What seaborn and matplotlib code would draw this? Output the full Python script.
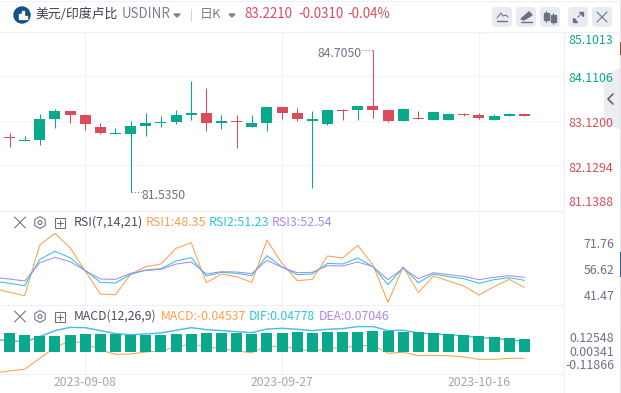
import matplotlib
matplotlib.use("Agg")
import matplotlib.pyplot as plt
from matplotlib.patches import Circle, FancyBboxPatch, Polygon, Rectangle, RegularPolygon
import numpy as np
import pandas as pd
import seaborn as sns

# ---- data ----
idx = list(range(35))
opens = [82.740, 82.666, 82.688, 83.157, 83.336, 83.247, 82.979, 82.822, 82.822, 83.001, 83.068, 83.090, 83.247, 83.291, 83.068, 83.113, 82.979, 83.068, 83.425, 83.291,
         83.113, 83.046, 83.358, 83.358, 83.448, 83.358, 83.113, 83.180, 83.135, 83.135, 83.269, 83.247, 83.135, 83.224, 83.269]
closes = [82.733, 82.688, 83.157, 83.336, 83.247, 83.046, 82.844, 82.844, 83.001, 83.068, 83.098, 83.247, 83.291, 83.068, 83.113, 83.090, 83.068, 83.425, 83.291, 83.157,
          83.157, 83.358, 83.336, 83.448, 83.358, 83.113, 83.381, 83.157, 83.314, 83.269, 83.247, 83.180, 83.224, 83.269, 83.224]
highs = [82.844, 82.777, 83.269, 83.381, 83.336, 83.269, 83.068, 82.956, 83.113, 83.291, 83.224, 83.358, 84.006, 83.850, 83.247, 83.247, 83.247, 83.425, 83.425, 83.403,
         83.336, 83.358, 83.381, 83.448, 84.705, 83.358, 83.403, 83.336, 83.314, 83.291, 83.291, 83.291, 83.269, 83.291, 83.269]
lows = [82.532, 82.666, 82.576, 82.956, 83.068, 82.912, 82.822, 82.822, 81.535, 82.777, 82.979, 83.046, 83.135, 82.889, 82.934, 82.509, 82.979, 82.889, 83.157, 83.113,
        81.616, 83.023, 83.135, 83.135, 83.180, 83.090, 83.113, 83.157, 83.135, 83.135, 83.224, 83.157, 83.135, 83.224, 83.224]

line_idx = list(range(-1, 35))
rsi1 = [46.21, 44.19, 42.17, 71.46, 78.20, 69.92, 56.43, 43.13, 42.75, 54.50, 58.93, 60.47, 69.53, 72.81, 49.68, 54.69, 53.15, 49.88, 74.16, 60.86, 50.84, 51.61,
        65.10, 63.94, 71.27, 59.90, 38.31, 58.93, 43.90, 53.54, 50.65, 47.76, 42.55, 47.37, 51.61, 46.98]
rsi2 = [50.53, 49.30, 47.95, 63.17, 67.80, 64.14, 56.81, 49.88, 49.49, 54.50, 57.01, 57.78, 62.21, 64.14, 53.54, 55.66, 55.08, 53.73, 65.29, 58.74, 54.31, 54.69,
        60.86, 60.47, 63.94, 58.93, 48.53, 58.35, 49.68, 54.69, 53.15, 52.00, 49.30, 51.42, 52.57, 51.03]
rsi3 = [52.73, 51.80, 50.65, 61.24, 64.33, 61.82, 56.62, 51.80, 51.61, 55.08, 56.81, 57.39, 60.47, 61.63, 54.69, 56.04, 55.85, 54.89, 62.59, 58.55, 55.46, 55.66,
        59.51, 59.32, 61.63, 58.93, 51.42, 57.97, 52.00, 55.46, 54.31, 53.34, 51.42, 52.77, 53.73, 52.77]

hist = [.176, .157, .148, .148, .157, .167, .167, .167, .157, .157, .157, .167, .167, .176, .176, .176, .167, .176, .176, .185,
        .176, .185, .185, .185, .194, .194, .185, .185, .176, .167, .157, .148, .139, .130, .120]
macd_line = [-.194, -.176, -.160, -.059, .043, .102, .080, .019, -.022, -.019, 0, .009, .046, .074, .046, .031, .009, -.006, .052, .052, .028, .006,
             .031, .040, .056, .062, -.012, -.003, -.034, -.031, -.034, -.046, -.068, -.068, -.059, -.059]
dif_line = [.114, .105, .093, .142, .198, .228, .225, .198, .170, .160, .167, .176, .201, .225, .207, .198, .188, .179, .213, .219, .210, .198,
            .210, .216, .235, .235, .198, .201, .176, .167, .160, .148, .133, .127, .111, .099]
dates = ["2023-09-08", "2023-09-27", "2023-10-16"]
date_idx = [5, 18, 31]

# ---- style ----
sns.set_theme(style="white")
plt.rcParams["font.family"] = ["Noto Sans CJK SC", "DejaVu Sans"]
GREEN, RED = "#0aa88c", "#dc4b5a"
ORANGE, CYAN, PURPLE = "#ffa04d", "#2cc6e0", "#a98be8"
GRID, TXT, GREY = "#f2f4f8", "#6e7385", "#a3a7b5"
W, H = 621, 393
LW = 0.75
fig = plt.figure(figsize=(W / 100, H / 100), dpi=100, facecolor="white")


def axes_px(x0, y0, x1, y1):
    return fig.add_axes([x0 / W, 1 - y1 / H, (x1 - x0) / W, (y1 - y0) / H])


XLIM = (-0.6275, 36.62)
ax_m = axes_px(0, 32, 564, 209.4)
ax_r = axes_px(0, 210, 564, 305)
ax_d = axes_px(0, 305, 564, 374)
for a in (ax_m, ax_r, ax_d):
    a.set_xlim(*XLIM)
    a.set_xticks(date_idx)
    a.set_xticklabels([])
    a.tick_params(length=0)
    a.grid(True, axis="x", color=GRID, lw=LW)
    a.set_axisbelow(True)
    a.set_facecolor("none")
    for s in a.spines.values():
        s.set_visible(False)

# candles
ax_m.set_ylim(81.1388, 85.1013)
ax_m.set_yticks([84.1106, 83.12, 82.1294])
ax_m.set_yticklabels([])
ax_m.grid(True, axis="y", color=GRID, lw=LW)
o, c = np.array(opens), np.array(closes)
cols = [GREEN if b >= a else RED for a, b in zip(opens, closes)]
ax_m.vlines(idx, lows, highs, colors=cols, lw=LW, zorder=3)
ax_m.bar(idx, np.maximum(np.abs(c - o), 0.016), bottom=np.minimum(o, c), width=0.73, color=cols, lw=0, zorder=4)
ax_m.plot([24.0 - 0.75, 24], [84.705, 84.705], color=TXT, lw=LW, ls=(0, (1, 2)), zorder=3)
ax_m.text(23.25, 84.63, "84.7050", ha="right", va="center", fontsize=8.8, color=TXT)
ax_m.plot([8, 8.75], [81.535, 81.535], color=TXT, lw=LW, ls=(0, (1, 2)), zorder=3)
ax_m.text(8.75, 81.46, "81.5350", ha="left", va="center", fontsize=8.8, color=TXT)

# RSI
ax_r.set_ylim(36.78, 91.69)
ax_r.set_yticks([])
for vals, col in ((rsi1, ORANGE), (rsi2, CYAN), (rsi3, PURPLE)):
    sns.lineplot(x=line_idx, y=vals, ax=ax_r, color=col, lw=LW, errorbar=None, sort=False)

# MACD
ax_d.set_ylim(-0.204, 0.435)
ax_d.set_yticks([])
sns.lineplot(x=line_idx, y=dif_line, ax=ax_d, color="#d9ccf5", lw=1.3, errorbar=None, sort=False, zorder=1)
sns.lineplot(x=line_idx, y=dif_line, ax=ax_d, color=CYAN, lw=LW, errorbar=None, sort=False, zorder=1.1)
sns.lineplot(x=line_idx, y=macd_line, ax=ax_d, color=ORANGE, lw=LW, errorbar=None, sort=False, zorder=1.1)
ax_d.bar(idx, hist, width=0.73, color=GREEN, lw=0, zorder=3)
for a in (ax_r, ax_d):
    a.set_xlim(*XLIM)
    a.set_xlabel("")
    a.set_ylabel("")

# overlay in pixel space
ov = fig.add_axes([0, 0, 1, 1], facecolor="none")
ov.set_xlim(0, W)
ov.set_ylim(H, 0)
ov.axis("off")
SEP = "#eef0f5"
ov.plot([0, 621], [31.5, 31.5], color=SEP, lw=1)
ov.plot([0, 621], [1, 1], color=SEP, lw=LW)
ov.plot([0, 564], [210.5, 210.5], color=SEP, lw=LW)
ov.plot([0, 564], [305, 305], color=SEP, lw=LW)
ov.plot([0, 564], [374, 374], color=SEP, lw=LW)
ov.plot([564, 564], [32, 393], color=SEP, lw=LW)

# right edge of the card
ov.add_patch(Rectangle((619.8, 0), 1.2, 393, color="#e3e5ea", lw=0))
ov.add_patch(Rectangle((619.8, 252), 1.2, 25, color="#1a6fa8", lw=0))
ov.add_patch(Rectangle((619.8, 42), 1.2, 13, color="#7a5a30", lw=0))

# header
ov.add_patch(Circle((22, 15), 8, color="#12508a"))
for bx, bt in ((18.5, 14), (21.5, 11), (24.5, 15.5)):
    ov.add_patch(Rectangle((bx, bt), 2, 19 - bt, color="white"))
ov.text(35, 14.5, "美元/印度卢比", fontsize=9.3, color="#3a3f4d", va="center")
ov.text(122, 14.5, "USDINR", fontsize=9.6, color="#7b8090", va="center")
ov.add_patch(Polygon([[174, 14], [180, 14], [177, 17]], color="#7b8090"))
ov.plot([190.5, 190.5], [9, 21], color="#cfd2da", lw=LW)
ov.text(200, 14.5, "日K", fontsize=9.4, color="#7b8090", va="center")
ov.add_patch(Polygon([[229, 14], [235, 14], [232, 17]], color="#7b8090"))
for tx, s in ((244.5, "83.2210"), (298.5, "-0.0310"), (347.5, "-0.04%")):
    ov.text(tx, 14.5, s, fontsize=9.6, color=RED, va="center", fontweight="medium")

ICON = "#6b7080"
for bx in (492, 516, 540, 568, 592):
    ov.add_patch(FancyBboxPatch((bx + 2, 9), 16, 16, boxstyle="round,pad=2,rounding_size=4", fc="#e8ebf2", ec="none"))
ov.plot([497, 501, 503, 506, 508], [18, 13, 16, 15, 17], color=ICON, lw=LW)
ov.plot([497, 507], [21, 21], color=ICON, lw=1)
ov.add_patch(Polygon([[521, 19], [529, 12], [532, 15], [524, 20]], color=ICON))
ov.plot([521, 532], [21.5, 21.5], color=ICON, lw=1)
for cx, t, b in ((546, 13, 20), (553, 15, 22)):
    ov.plot([cx, cx], [t - 2, b + 2], color=ICON, lw=0.7)
    ov.add_patch(Rectangle((cx - 2.5, t), 5, b - t, color=ICON))
ov.plot([574, 582], [21, 13], color=ICON, lw=LW, ls=(0, (3, 2)))
ov.add_patch(Polygon([[579, 12], [583, 12], [583, 16]], color=ICON))
ov.add_patch(Polygon([[573, 18], [573, 22], [577, 22]], color=ICON))
ov.plot([597, 607], [12, 22], color=ICON, lw=LW)
ov.plot([597, 607], [22, 12], color=ICON, lw=LW)

# right tab
ov.add_patch(Polygon([[620, 68], [604, 76], [604, 122], [620, 130]], color="#ecedf1", lw=0))
ov.plot([613, 608, 613], [94, 99, 104], color="#5f6473", lw=1.2)

# price labels
for y, s, col in ((40.7, "85.1013", GREEN), (78.5, "84.1106", GREEN), (123.5, "83.1200", RED), (168.7, "82.1294", RED), (202.3, "81.1388", RED)):
    ov.text(613.5, y, s, fontsize=8.9, color=col, ha="right", va="center")
for y, s in ((244.5, "71.76"), (270.7, "56.62"), (296.7, "41.47"), (338.7, "0.12548"), (352.7, "0.00341"), (365.7, "-0.11866")):
    ov.text(614.5, y, s, fontsize=8.9, color=TXT, ha="right", va="center")

# panel headers
for y, fs, items in ((222.5, 9, ((74, "RSI(7,14,21)", "#4a4f5d"), (146, "RSI1:48.35", ORANGE), (209, "RSI2:51.23", CYAN), (272, "RSI3:52.54", PURPLE))),
                     (316.5, 8.8, ((74, "MACD(12,26,9)", "#4a4f5d"), (160.5, "MACD:-0.04537", ORANGE), (249, "DIF:0.04778", CYAN), (319, "DEA:0.07046", PURPLE)))):
    ov.plot([14.5, 25.5], [y - 5.5, y + 5.5], color=ICON, lw=LW)
    ov.plot([14.5, 25.5], [y + 5.5, y - 5.5], color=ICON, lw=LW)
    ov.add_patch(RegularPolygon((40, y), 6, radius=6, fc="none", ec=ICON, lw=LW))
    ov.add_patch(Circle((40, y), 2, fc="none", ec=ICON, lw=LW))
    ov.add_patch(Rectangle((54.5, y - 5), 10.5, 10.5, fc="none", ec=ICON, lw=LW))
    ov.plot([57, 63], [y, y], color=ICON, lw=LW)
    ov.plot([60, 60], [y - 3, y + 3], color=ICON, lw=LW)
    for tx, s, col in items:
        ov.text(tx, y - 0.5, s, fontsize=fs, color=col, va="center")

# date labels: placed over the grid positions of the data axis
for i, s in zip(date_idx, dates):
    px = (i - XLIM[0]) / (XLIM[1] - XLIM[0]) * 564
    ov.text(px, 383, s, fontsize=8.8, color=GREY, ha="center", va="center")

fig.savefig("out.png", dpi=100)
